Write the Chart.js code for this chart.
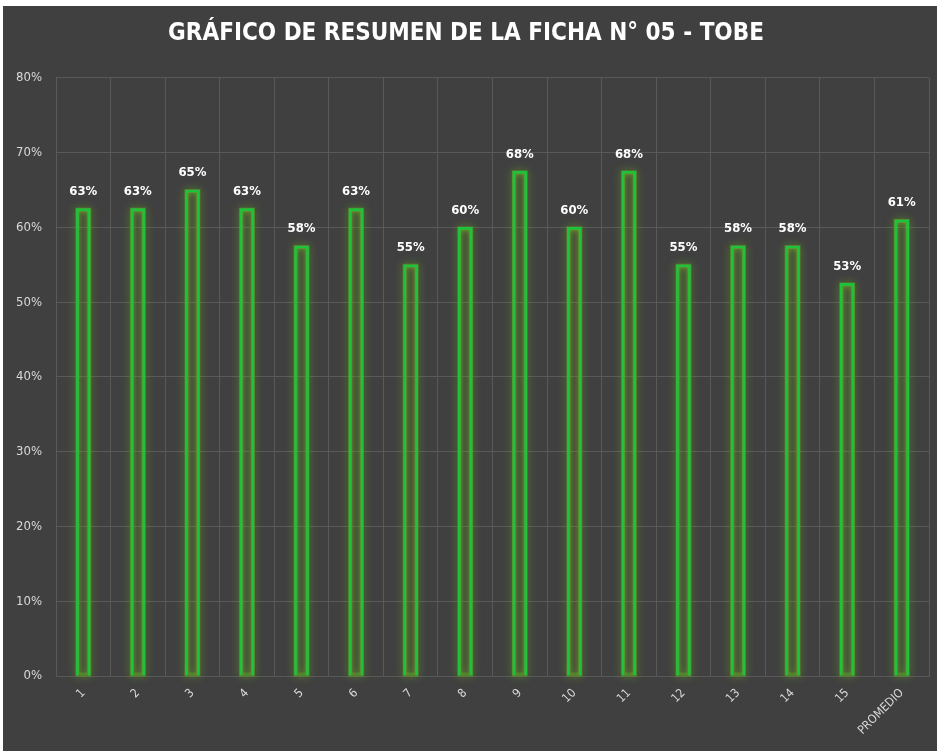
<!DOCTYPE html>
<html>
<head>
<meta charset="utf-8">
<title>Resumen ficha 05 - TOBE</title>
<script src="https://cdn.jsdelivr.net/npm/chart.js@4/dist/chart.umd.min.js"></script>
<style>
  body { margin: 0; background: #ffffff; }
  #marco { position: absolute; left: 3px; top: 6px; width: 934px; height: 745px; background: #404040; }
</style>
</head>
<body>
<div id="marco"><canvas id="chartResumen"></canvas></div>
<script>
var fichas = ['1', '2', '3', '4', '5', '6', '7', '8', '9', '10', '11', '12', '13', '14', '15', 'PROMEDIO'];
var porcentajes = [62.5, 62.5, 65, 62.5, 57.5, 62.5, 55, 60, 67.5, 60, 67.5, 55, 57.5, 57.5, 52.5, 61];
var ejeMax = 80;
var ejePaso = 10;

var tituloGrafico = 'GRÁFICO DE RESUMEN DE LA FICHA N° 05 - TOBE';
var fuenteAngosta = "'Liberation Sans Narrow', 'DejaVu Sans Condensed', sans-serif";

// glow verde alrededor de las barras y los porcentajes encima
var brilloYEtiquetas = {
  id: 'brilloYEtiquetas',
  beforeDatasetsDraw: function(chart) {
    let ctx = chart.ctx;
    let meta = chart.getDatasetMeta(0);
    // primera pasada: halo ancho y difuso
    ctx.save();
    ctx.shadowColor = 'rgba(110, 175, 30, 1)';
    ctx.shadowBlur = 9;
    ctx.strokeStyle = 'rgba(90, 160, 40, 0.55)';
    ctx.lineWidth = 4;
    meta.data.forEach(function(barra) {
      let ancho = barra.width;
      ctx.strokeRect(barra.x - ancho / 2 + 1, barra.y + 1, ancho - 2, barra.base - barra.y - 2);
    });
    ctx.restore();

    ctx.save();
    ctx.shadowColor = 'rgba(120, 190, 40, 0.9)';
    ctx.shadowBlur = 5;
  },
  afterDatasetsDraw: function(chart) {
    let ctx = chart.ctx;
    ctx.restore();

    let meta = chart.getDatasetMeta(0);
    ctx.save();
    ctx.fillStyle = '#ffffff';
    ctx.font = 'bold 13px ' + fuenteAngosta;
    ctx.textAlign = 'center';
    ctx.textBaseline = 'middle';
    meta.data.forEach(function(barra, i) {
      ctx.fillText(Math.round(porcentajes[i]) + '%', barra.x, barra.y - 17);
    });
    ctx.restore();
  }
};

let canvasResumen = document.getElementById('chartResumen').getContext('2d');

new Chart(canvasResumen, {
  type: 'bar',
  data: {
    labels: fichas,
    datasets: [{
      data: porcentajes,
      backgroundColor: 'rgba(0, 0, 0, 0)',
      borderColor: '#1fc23d',
      borderWidth: 2,
      barThickness: 14,
    }],
  },
  options: {
    responsive: true,
    maintainAspectRatio: false,
    animation: false,
    layout: {
      padding: {left: 0, right: 8, top: 0, bottom: 0},
    },
    plugins: {
      legend: {display: false},
      tooltip: {enabled: false},
      title: {
        display: true,
        text: tituloGrafico,
        color: '#ffffff',
        font: {family: fuenteAngosta, size: 24, weight: 'bold'},
        padding: {top: 13, bottom: 30},
      },
    },
    scales: {
      x: {
        grid: {color: '#595959', lineWidth: 1, drawTicks: false},
        border: {color: '#595959'},
        ticks: {
          color: '#d9d9d9',
          font: {family: fuenteAngosta, size: 12},
          minRotation: 45,
          maxRotation: 45,
          padding: 10,
        },
        afterFit: function(scale) {
          scale.height = 75;
        },
      },
      y: {
        min: 0,
        max: ejeMax,
        grid: {color: '#595959', lineWidth: 1, drawTicks: false},
        border: {display: false},
        ticks: {
          stepSize: ejePaso,
          color: '#d9d9d9',
          font: {family: fuenteAngosta, size: 13},
          padding: 14,
          callback: function(valor) {
            return valor + '%';
          },
        },
        afterFit: function(scale) {
          scale.width = 53;
        },
      },
    },
  },
  plugins: [brilloYEtiquetas],
});
</script>
</body>
</html>
